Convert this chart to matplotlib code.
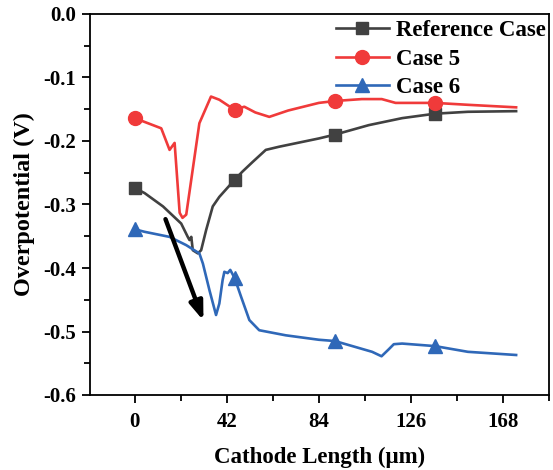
import matplotlib
matplotlib.use("Agg")
import matplotlib.pyplot as plt
import numpy as np

plt.rcParams['font.family'] = ['Liberation Serif', 'DejaVu Serif']
plt.rcParams['font.weight'] = 'bold'

# Reference Case
ref_x = [0, 4.5, 12.9, 21.2, 24.2, 25.0, 25.8, 26.5, 28.8, 30.3, 32.6, 35.6, 38.6, 45.6,
         49.2, 53.8, 59.8, 65.9, 84, 91.3, 106.8, 122, 137, 152, 174]
ref_y = [-0.274, -0.282, -0.303, -0.330, -0.351, -0.356, -0.351, -0.372, -0.377, -0.372,
         -0.340, -0.303, -0.288, -0.261, -0.248, -0.233, -0.214, -0.209, -0.196, -0.190,
         -0.175, -0.164, -0.157, -0.154, -0.153]
ref_marks = [0, 13, 19, 22]

# Case 5
c5_x = [0, 12.1, 15.9, 18.2, 20.5, 21.8, 23.5, 29.5, 34.8, 38.6, 45.6, 50.0, 55.0, 61.4,
        70, 84, 91.3, 103.6, 112.7, 119, 137, 152, 174]
c5_y = [-0.164, -0.180, -0.214, -0.203, -0.313, -0.321, -0.316, -0.172, -0.130, -0.135,
        -0.151, -0.146, -0.155, -0.162, -0.152, -0.140, -0.137, -0.134, -0.134, -0.140,
        -0.140, -0.143, -0.147]
c5_marks = [0, 10, 16, 20]

# Case 6
c6_x = [0, 4.5, 15.9, 23.5, 29.5, 31.1, 34.1, 37.1, 38.6, 40.1, 40.9, 42.4, 43.6, 45.6,
        48.5, 52.3, 56.8, 68.9, 84, 91.3, 108.3, 112.6, 115.9, 118.2, 122, 137, 152, 174]
c6_y = [-0.339, -0.343, -0.351, -0.364, -0.377, -0.393, -0.435, -0.474, -0.456, -0.419,
        -0.406, -0.408, -0.403, -0.416, -0.445, -0.482, -0.498, -0.506, -0.513, -0.515,
        -0.532, -0.539, -0.528, -0.520, -0.519, -0.523, -0.532, -0.537]
c6_marks = [0, 13, 19, 25]

x_ticks = [0, 42, 84, 126, 168]
y_ticks = [0.0, -0.1, -0.2, -0.3, -0.4, -0.5, -0.6]
y_ticklabels = ['0.0', '-0.1', '-0.2', '-0.3', '-0.4', '-0.5', '-0.6']

fig = plt.figure(figsize=(5.53, 4.70), dpi=100)
ax = fig.add_axes([90/553, 75/470, (549-90)/553, (395-14)/470])

ax.plot(ref_x, ref_y, color='#414141', lw=1.9, marker='s', markersize=9,
        markevery=ref_marks, label='Reference Case')
ax.plot(c5_x, c5_y, color='#f03a3a', lw=1.9, marker='o', markersize=10,
        markevery=c5_marks, label='Case 5')
ax.plot(c6_x, c6_y, color='#2f68b8', lw=1.9, marker='^', markersize=10,
        markevery=c6_marks, label='Case 6')

ax.annotate('', xy=(31.8, -0.487), xytext=(13.6, -0.319),
            arrowprops=dict(arrowstyle='-|>,head_length=1.1,head_width=0.4',
                            color='black', lw=3.2))

ax.set_xlim(-20.4, 187.5)
ax.set_ylim(-0.6, 0.0)
ax.set_xticks(x_ticks)
ax.set_xticks([21, 63, 105, 147, 189 - 1e-9], minor=True)
ax.set_yticks(y_ticks)
ax.set_yticks(np.arange(-0.55, 0, 0.1), minor=True)
ax.set_yticklabels(y_ticklabels)
ax.tick_params(axis='both', which='major', direction='out', length=6, width=1.3,
               labelsize=15, top=False, right=False)
ax.tick_params(axis='y', which='major', pad=4)
ax.tick_params(axis='x', which='major', pad=6)
ax.tick_params(axis='both', which='minor', direction='out', length=4, width=1.3,
               top=False, right=False)
for lbl in ax.get_xticklabels() + ax.get_yticklabels():
    lbl.set_fontweight('bold')
for s in ax.spines.values():
    s.set_linewidth(1.3)

ax.set_xlabel('Cathode Length (μm)', fontsize=16.5, fontweight='bold', labelpad=11)
ax.set_ylabel('Overpotential (V)', fontsize=17.5, fontweight='bold', labelpad=6)

leg = ax.legend(loc='upper right', frameon=False, fontsize=16.5, handlelength=2.3,
                bbox_to_anchor=(1.0, 0.993),
                borderaxespad=0.05, labelspacing=0.33, handletextpad=0.3,
                borderpad=0.1)
for t in leg.get_texts():
    t.set_fontweight('bold')

fig.savefig('out.png', dpi=100)
